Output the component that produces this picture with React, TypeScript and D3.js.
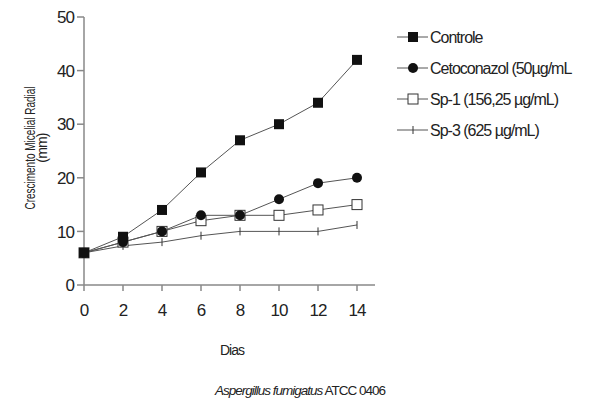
import * as d3 from "d3";
import { useEffect, useRef } from "react";

const dias = [0, 2, 4, 6, 8, 10, 12, 14];
const controle = [6, 9, 14, 21, 27, 30, 34, 42];
const cetoconazol = [6, 8, 10, 13, 13, 16, 19, 20];
const sp1 = [6, 8, 10, 12, 13, 13, 14, 15];
const sp3 = [6, 7.3, 8, 9.2, 10, 10, 10, 11.2];
const yTicks = [0, 10, 20, 30, 40, 50];

const series = [
  { name: "Controle", values: controle, marker: "square" },
  { name: "Cetoconazol (50\u00b5g/mL", values: cetoconazol, marker: "circle" },
  { name: "Sp-1 (156,25 \u00b5g/mL)", values: sp1, marker: "open" },
  { name: "Sp-3 (625 \u00b5g/mL)", values: sp3, marker: "plus" },
];

const W = 589;
const H = 399;
const font = "'Liberation Sans', Arial, sans-serif";

function drawMarker(g, type, x, y) {
  if (type === "square") {
    g.append("rect").attr("x", x - 5).attr("y", y - 5).attr("width", 10).attr("height", 10).attr("fill", "#111");
  } else if (type === "circle") {
    g.append("circle").attr("cx", x).attr("cy", y).attr("r", 5).attr("fill", "#111");
  } else if (type === "open") {
    g.append("rect").attr("x", x - 5).attr("y", y - 5).attr("width", 10).attr("height", 10)
      .attr("fill", "#fff").attr("stroke", "#333").attr("stroke-width", 1);
  } else {
    g.append("line").attr("x1", x).attr("x2", x).attr("y1", y - 4).attr("y2", y + 4).attr("stroke", "#333");
  }
}

const App = () => {
  const ref = useRef(null);

  useEffect(() => {
    const svg = d3.select(ref.current);
    svg.selectAll("*").remove();

    const x = d3.scaleLinear().domain([0, 14]).range([84, 357]);
    const y = d3.scaleLinear().domain([0, 50]).range([285, 17]);

    // axes
    svg.append("line").attr("x1", 84).attr("x2", 84).attr("y1", y(50)).attr("y2", y(0))
      .attr("stroke", "#888").attr("stroke-width", 1.5);
    svg.append("line").attr("x1", 84).attr("x2", 375).attr("y1", y(0)).attr("y2", y(0))
      .attr("stroke", "#888").attr("stroke-width", 1.5);

    yTicks.forEach(t => {
      svg.append("line").attr("x1", 77).attr("x2", 84).attr("y1", y(t)).attr("y2", y(t))
        .attr("stroke", "#888").attr("stroke-width", 1.5);
      svg.append("text").attr("x", 74).attr("y", y(t)).attr("dy", "0.36em")
        .attr("text-anchor", "end").attr("font-family", font).attr("font-size", 17)
        .attr("letter-spacing", -1).attr("fill", "#222").text(t);
    });
    dias.forEach(t => {
      svg.append("line").attr("x1", x(t)).attr("x2", x(t)).attr("y1", y(0)).attr("y2", y(0) + 6)
        .attr("stroke", "#888").attr("stroke-width", 1.5);
      svg.append("text").attr("x", x(t)).attr("y", 316)
        .attr("text-anchor", "middle").attr("font-family", font).attr("font-size", 17)
        .attr("letter-spacing", -1).attr("fill", "#222").text(t);
    });

    // lines
    const line = d3.line().x((d, i) => x(dias[i])).y(d => y(d));
    series.slice().reverse().forEach(s => {
      svg.append("path").attr("d", line(s.values)).attr("fill", "none")
        .attr("stroke", "#555").attr("stroke-width", 1);
    });
    series.slice().reverse().forEach(s => {
      s.values.forEach((v, i) => drawMarker(svg, s.marker, x(dias[i]), y(v)));
    });

    // legend
    const legY = d3.scalePoint().domain(series.map(s => s.name)).range([37, 130]);
    series.forEach(s => {
      const ly = legY(s.name);
      svg.append("line").attr("x1", 397).attr("x2", 428).attr("y1", ly).attr("y2", ly)
        .attr("stroke", "#555").attr("stroke-width", 1);
      drawMarker(svg, s.marker, 413, ly);
      svg.append("text").attr("x", 430).attr("y", ly).attr("dy", "0.36em")
        .attr("font-family", font).attr("font-size", 16).attr("letter-spacing", -1)
        .attr("fill", "#222").text(s.name);
    });

    // axis titles
    const yt = svg.append("text").attr("transform", "translate(35,148) rotate(-90)")
      .attr("text-anchor", "middle").attr("font-family", font).attr("font-size", 14)
      .attr("fill", "#222");
    yt.append("tspan").attr("x", 0).attr("y", 0).attr("textLength", 123)
      .attr("lengthAdjust", "spacingAndGlyphs").text("Crescimento Micelial Radial");
    yt.append("tspan").attr("x", 0).attr("y", 12).attr("letter-spacing", -0.8).text("(mm)");

    svg.append("text").attr("x", 232).attr("y", 355).attr("text-anchor", "middle")
      .attr("font-family", font).attr("font-size", 14).attr("letter-spacing", -1)
      .attr("fill", "#222").text("Dias");

    const cap = svg.append("text").attr("x", 300).attr("y", 395).attr("text-anchor", "middle")
      .attr("font-family", font).attr("font-size", 13.5).attr("letter-spacing", -1).attr("fill", "#222");
    cap.append("tspan").attr("font-style", "italic").text("Aspergillus fumigatus");
    cap.append("tspan").text("  ATCC 0406");
  }, []);

  return (
    <svg ref={ref} width={W} height={H}
      style={{ position: "absolute", left: 0, top: 0, background: "#fff" }} />
  );
};

export default App;
